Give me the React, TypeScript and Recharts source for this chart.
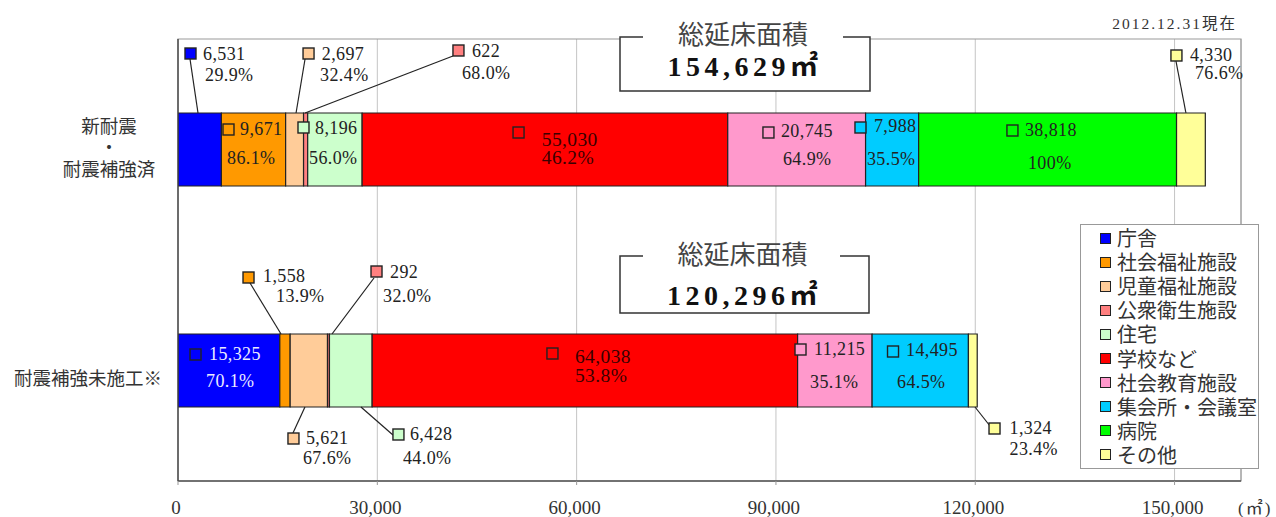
import React from 'react';
import {
  BarChart,
  Bar,
  XAxis,
  YAxis,
  CartesianGrid,
  ReferenceArea,
  LabelList,
  Legend,
} from 'recharts';

// ---- data -------------------------------------------------------------
const CATEGORIES = ['新耐震\n・\n耐震補強済', '耐震補強未施工※'];

const SERIES_NAMES = [
  '庁舎',
  '社会福祉施設',
  '児童福祉施設',
  '公衆衛生施設',
  '住宅',
  '学校など',
  '社会教育施設',
  '集会所・会議室',
  '病院',
  'その他',
];

const SERIES_COLORS = [
  '#0000FF',
  '#FF9900',
  '#FFCC99',
  '#FF8080',
  '#CCFFCC',
  '#FF0000',
  '#FF99CC',
  '#00CCFF',
  '#00FF00',
  '#FFFF99',
];

// floor area (㎡) per facility type
const AREA_RETROFITTED = [6531, 9671, 2697, 622, 8196, 55030, 20745, 7988, 38818, 4330];
const AREA_UNRETROFITTED = [15325, 1558, 5621, 292, 6428, 64038, 11215, 14495, 0, 1324];

// share (%) of each facility type's floor area
const SHARE_RETROFITTED = [29.9, 86.1, 32.4, 68.0, 56.0, 46.2, 64.9, 35.5, 100, 76.6];
const SHARE_UNRETROFITTED = [70.1, 13.9, 67.6, 32.0, 44.0, 53.8, 35.1, 64.5, 0, 23.4];

const TOTALS = [154629, 120296];
const TOTAL_TITLE = '総延床面積';
const AS_OF = '2012.12.31現在';
const UNIT = '(㎡)';

const X_TICKS = [0, 30000, 60000, 90000, 120000, 150000];
const X_MAX = 160000;

const AREAS = [AREA_RETROFITTED, AREA_UNRETROFITTED];
const SHARES = [SHARE_RETROFITTED, SHARE_UNRETROFITTED];

const chartData = CATEGORIES.map((name, r) => {
  const row: Record<string, string | number> = { name };
  SERIES_NAMES.forEach((_, s) => {
    row[`s${s}`] = AREAS[r][s];
  });
  return row;
});

// ---- label placement (offsets from a segment's left edge and the bar top) ----
type LabelSpec = {
  m: [number, number];
  v: [number, number];
  p: [number, number];
  lead?: [number, number, number, number];
};

const LABEL_LAYOUT: LabelSpec[][] = [
  [
    { m: [7, -65], v: [25, -59.5], p: [27, -38], lead: [12, -54, 20, 0] },
    { m: [1.6, 11], v: [18.6, 16], p: [5.6, 45] },
    { m: [17.4, -65], v: [36.1, -59.5], p: [34.4, -38], lead: [19.4, -54, 10.4, 0] },
    { m: [149.4, -68], v: [168.4, -62.3], p: [158.4, -40], lead: [149.4, -57, 1.5, 0] },
    { m: [-9.7, 9], v: [7.3, 15], p: [1.3, 45] },
    { m: [150.9, 14], v: [179.6, 26], p: [179.6, 44] },
    { m: [35.2, 14], v: [53.2, 18], p: [55.2, 46] },
    { m: [-10.6, 9], v: [8.4, 13], p: [1.4, 46] },
    { m: [88.3, 12], v: [106.3, 17], p: [109.3, 50] },
    { m: [-5.6, -63], v: [13.4, -58], p: [18.4, -40], lead: [-0.6, -52, 9.4, 0] },
  ],
  [
    { m: [12, 15], v: [31, 20], p: [28, 47] },
    { m: [-36.8, -62], v: [-16.8, -58], p: [-3.8, -38], lead: [-29.8, -51, 1.2, 0] },
    { m: [-2.2, 99], v: [15.8, 104], p: [12.8, 124], lead: [2.8, 99, 14.8, 73] },
    { m: [43.5, -68], v: [62.5, -62], p: [55.5, -38], lead: [46.5, -56, 4.5, 0] },
    { m: [63.5, 95], v: [80.5, 100], p: [73.5, 124], lead: [63.5, 101, 31.5, 73] },
    { m: [174.8, 14], v: [202.8, 22], p: [202.8, 41] },
    { m: [-2.6, 10], v: [16.4, 15], p: [12.4, 48] },
    { m: [15.4, 12], v: [33.9, 16], p: [24.9, 48] },
    { m: [15.2, -46], v: [34.6, -41], p: [25.6, -19], lead: [18.6, -35, -2.4, 0] },
    { m: [20.6, 89], v: [41.1, 94], p: [41.1, 115], lead: [6.6, 73, 21.6, 92] },
  ],
];

const SERIF = "'Liberation Serif', 'Noto Sans CJK JP', serif";
const SANS_JP = "'Noto Sans CJK JP', 'Noto Sans', sans-serif";

const fmtArea = (v: number) => v.toLocaleString('en-US');
const fmtShare = (v: number) => (v === 0 || v === 100 ? `${v}%` : `${v.toFixed(1)}%`);

const makeSegmentLabel = (s: number) => (props: any) => {
  const vb = props.viewBox ?? props;
  const row = props.index;
  const spec = LABEL_LAYOUT[row]?.[s];
  if (!spec || vb == null || vb.x == null) return null;
  const sx = vb.x;
  const ty = vb.y;
  const inverse = row === 1 && s === 0;
  const color = inverse ? '#ececff' : s === 5 ? '#3a0000' : '#222';
  const fs = s === 5 ? 19.5 : 18;
  return (
    <g>
      {spec.lead && (
        <line
          x1={sx + spec.lead[0]}
          y1={ty + spec.lead[1]}
          x2={sx + spec.lead[2]}
          y2={ty + spec.lead[3]}
          stroke="#222"
          strokeWidth={1.2}
        />
      )}
      <rect
        x={sx + spec.m[0]}
        y={ty + spec.m[1]}
        width={11}
        height={11}
        fill={SERIES_COLORS[s]}
        stroke="#222"
        strokeWidth={1.4}
      />
      <text
        x={sx + spec.v[0]}
        y={ty + spec.v[1]}
        dominantBaseline="central"
        fontFamily={SERIF}
        fontSize={fs}
        letterSpacing={0.4}
        fill={color}
      >
        {fmtArea(AREAS[row][s])}
      </text>
      <text
        x={sx + spec.p[0]}
        y={ty + spec.p[1]}
        dominantBaseline="central"
        fontFamily={SERIF}
        fontSize={fs}
        letterSpacing={0.4}
        fill={color}
      >
        {fmtShare(SHARES[row][s])}
      </text>
    </g>
  );
};

const CategoryTick = (props: any) => {
  const { x, y, payload } = props;
  const lines = String(payload.value).split('\n');
  if (lines.length > 1) {
    const cx = x - 69;
    const step = 21.5;
    const firstY = y - 3.5 - ((lines.length - 1) / 2) * step;
    return (
      <text
        x={cx}
        y={firstY}
        textAnchor="middle"
        dominantBaseline="central"
        fontFamily={SANS_JP}
        fontSize={18.5}
        fill="#333"
      >
        {lines.map((ln, i) => (
          <tspan key={i} x={cx} dy={i === 0 ? 0 : step}>
            {ln}
          </tspan>
        ))}
      </text>
    );
  }
  return (
    <text
      x={x - 16}
      y={y + 6.5}
      textAnchor="end"
      dominantBaseline="central"
      fontFamily={SANS_JP}
      fontSize={18.5}
      fill="#333"
    >
      {lines[0]}
    </text>
  );
};

const LegendBox = () => (
  <div
    style={{
      width: 179,
      height: 245,
      border: '1px solid #999',
      background: '#fff',
      boxSizing: 'border-box',
      paddingTop: 1,
    }}
  >
    {SERIES_NAMES.map((n, i) => (
      <div key={n} style={{ display: 'flex', alignItems: 'center', height: 24.1 }}>
        <span
          style={{
            display: 'inline-block',
            width: 11,
            height: 11,
            marginLeft: 19,
            background: SERIES_COLORS[i],
            border: '1.3px solid #222',
            boxSizing: 'border-box',
          }}
        />
        <span
          style={{
            display: 'block',
            marginLeft: 6,
            fontFamily: SANS_JP,
            fontSize: 20,
            lineHeight: '24px',
            height: 24,
            color: '#333',
            whiteSpace: 'nowrap',
          }}
        >
          {n}
        </span>
      </div>
    ))}
  </div>
);

// total floor-area callouts
const TotalBox = ({
  left,
  right,
  top,
  bottom,
  gapL,
  gapR,
  titleY,
  valueY,
  total,
}: {
  left: number;
  right: number;
  top: number;
  bottom: number;
  gapL: number;
  gapR: number;
  titleY: number;
  valueY: number;
  total: number;
}) => (
  <g>
    <path
      d={`M${gapL},${top} H${left} V${bottom} H${right} V${top} H${gapR}`}
      fill="#fff"
      stroke="#333"
      strokeWidth={1.5}
    />
    <text
      x={(left + right) / 2 - 2}
      y={titleY}
      textAnchor="middle"
      dominantBaseline="central"
      fontFamily={SANS_JP}
      fontSize={26}
      fill="#444"
    >
      {TOTAL_TITLE}
    </text>
    <text
      x={(left + right) / 2}
      y={valueY}
      textAnchor="middle"
      dominantBaseline="central"
      fontFamily={SERIF}
      fontSize={28}
      fontWeight="bold"
      letterSpacing={4.5}
      fill="#111"
    >
      {`${fmtArea(total)}㎡`}
    </text>
  </g>
);

export default function App() {
  return (
    <div style={{ position: 'absolute', left: 0, top: 0, width: 1276, height: 517, background: '#fff' }}>
      <BarChart
        width={1276}
        height={517}
        data={chartData}
        layout="vertical"
        margin={{ top: 39, right: 35, bottom: 6, left: 0 }}
        barSize={73}
      >
        <CartesianGrid horizontal={false} stroke="#c4c4c4" />
        <ReferenceArea x1={0} x2={X_MAX} fill="none" fillOpacity={0} stroke="#9a9a9a" strokeWidth={1.2} />
        <XAxis
          type="number"
          domain={[0, X_MAX]}
          ticks={X_TICKS}
          allowDataOverflow
          height={30}
          tickSize={4}
          tickMargin={16}
          tickFormatter={(v: number) => fmtArea(v)}
          tick={{ fontSize: 19, fill: '#333', fontFamily: SERIF, dx: -2 }}
          axisLine={{ stroke: '#555', strokeWidth: 1.3 }}
          tickLine={{ stroke: '#999' }}
        />
        <YAxis
          type="category"
          dataKey="name"
          width={178}
          tickSize={0}
          tickMargin={0}
          tickLine={false}
          axisLine={{ stroke: '#444', strokeWidth: 1.3 }}
          tick={CategoryTick}
        />
        <Legend
          layout="vertical"
          align="center"
          verticalAlign="middle"
          content={LegendBox}
          wrapperStyle={{ left: 1080, top: 224, width: 179, height: 245 }}
        />
        {SERIES_NAMES.map((name, s) => (
          <Bar
            key={name}
            dataKey={`s${s}`}
            name={name}
            stackId="area"
            fill={SERIES_COLORS[s]}
            stroke="#222"
            strokeWidth={1.2}
            isAnimationActive={false}
          >
            <LabelList content={makeSegmentLabel(s)} />
          </Bar>
        ))}
      </BarChart>
      <svg
        width={1276}
        height={517}
        style={{ position: 'absolute', left: 0, top: 0, pointerEvents: 'none' }}
      >
        <text
          x={1237}
          y={23}
          textAnchor="end"
          dominantBaseline="central"
          fontFamily={SERIF}
          fontSize={15.5}
          letterSpacing={2}
          fill="#333"
        >
          {AS_OF}
        </text>
        <text
          x={1238}
          y={508}
          dominantBaseline="central"
          fontFamily={SERIF}
          fontSize={17}
          letterSpacing={2}
          fill="#333"
        >
          {UNIT}
        </text>
        <TotalBox left={620} right={870} top={37} bottom={91} gapL={643} gapR={843} titleY={32} valueY={66} total={TOTALS[0]} />
        <TotalBox left={620} right={869} top={256} bottom={313} gapL={643} gapR={840} titleY={252} valueY={295} total={TOTALS[1]} />
      </svg>
    </div>
  );
}
